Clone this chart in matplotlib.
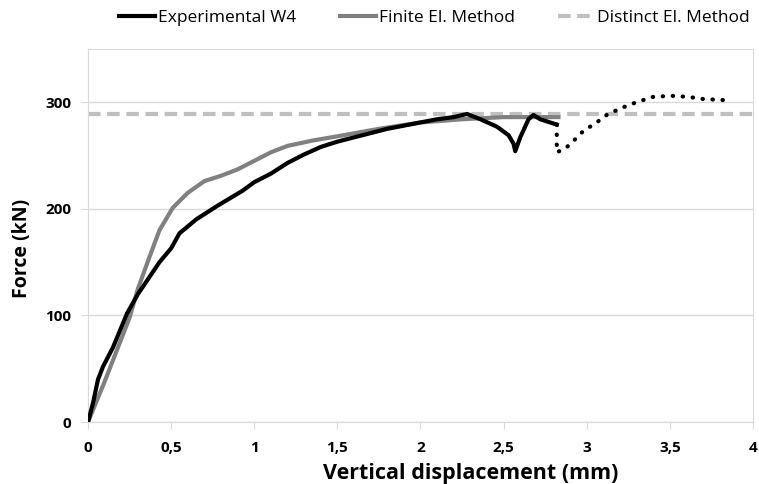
import matplotlib.pyplot as plt

plt.rcParams['font.family'] = ['Open Sans', 'DejaVu Sans']

# Experimental W4 (black)
exp_x = [0, 0.03, 0.06, 0.09, 0.15, 0.235, 0.3, 0.43, 0.5, 0.55, 0.65, 0.78, 0.93, 1.0, 1.1, 1.2,
         1.3, 1.4, 1.5, 1.65, 1.8, 2.0, 2.1, 2.2, 2.28, 2.36, 2.46, 2.53, 2.56, 2.57, 2.6, 2.65,
         2.68, 2.72, 2.82]
exp_f = [0, 18, 40, 52, 70, 102, 120, 150, 163, 177, 190, 203, 217, 225, 233, 243,
         251, 258, 263, 269, 275, 281, 284, 286, 289, 284, 277, 269, 261, 254, 267, 284,
         288, 284, 279]

# Experimental W4 continuation (dotted)
dot_x = [2.82, 2.82, 2.87, 2.91, 2.98, 3.06, 3.12, 3.2, 3.3, 3.4, 3.51, 3.61, 3.7, 3.82]
dot_f = [279, 253, 256.5, 262, 273, 281, 288, 294, 300, 305, 306, 305, 303, 302]

# Finite El. Method (grey)
fem_x = [0, 0.1, 0.2, 0.25, 0.3, 0.37, 0.43, 0.51, 0.6, 0.7, 0.8, 0.9, 1.0, 1.1, 1.2, 1.35, 1.5,
         1.75, 2.0, 2.25, 2.5, 2.83]
fem_f = [0, 38, 78, 98, 125, 155, 180, 201, 215, 226, 231, 237, 245, 253, 259, 264, 268,
         275, 281, 284, 286, 286]

# Distinct El. Method (dashed)
dem_x = [0, 4]
dem_f = [289, 289]

xticks = [0, 0.5, 1, 1.5, 2, 2.5, 3, 3.5, 4]
xticklabels = ['0', '0,5', '1', '1,5', '2', '2,5', '3', '3,5', '4']
yticks = [0, 100, 200, 300]

fig = plt.figure(figsize=(7.59, 4.84), dpi=100)
ax = fig.add_axes([0.116, 0.128, 0.876, 0.771])

ax.plot(dem_x, dem_f, color='#bfbfbf', lw=3, ls=(0, (3, 1.6)), label='Distinct El. Method', zorder=2)
ax.plot(fem_x, fem_f, color='#808080', lw=3, label='Finite El. Method', zorder=3)
ax.plot(exp_x, exp_f, color='black', lw=3, label='Experimental W4', zorder=4)
ax.plot(dot_x, dot_f, color='black', lw=3, ls=(0, (0.1, 2.3)), dash_capstyle='round', zorder=4)

ax.set_xlim(0, 4)
ax.set_ylim(0, 350)
ax.set_xticks(xticks)
ax.set_xticklabels(xticklabels)
ax.set_yticks(yticks)
ax.grid(axis='y', color='#d9d9d9', lw=1)
ax.set_axisbelow(True)
for s in ax.spines.values():
    s.set_color('#d9d9d9')
ax.tick_params(colors='#d9d9d9', labelcolor='black', length=5)
ax.tick_params(axis='x', pad=9)
ax.tick_params(axis='y', pad=7)
for lab in ax.get_xticklabels() + ax.get_yticklabels():
    lab.set_fontweight('bold')
    lab.set_fontsize(11)

ax.set_xlabel('Vertical displacement (mm)', fontsize=15.5, fontweight='bold', va='center')
ax.set_ylabel('Force (kN)', fontsize=14, fontweight='bold', va='center')
ax.xaxis.set_label_coords(0.576, -0.137)
ax.yaxis.set_label_coords(-0.1, 0.466)

h, l = ax.get_legend_handles_labels()
order = [2, 1, 0]
fig.legend([h[i] for i in order], [l[i] for i in order], loc='center right',
           bbox_to_anchor=(0.988, 0.962), ncol=3, frameon=False, fontsize=12.5,
           handlelength=2.1, handletextpad=0.15, columnspacing=2.5,
           borderaxespad=0, borderpad=0)

plt.savefig('out.png', dpi=100)
